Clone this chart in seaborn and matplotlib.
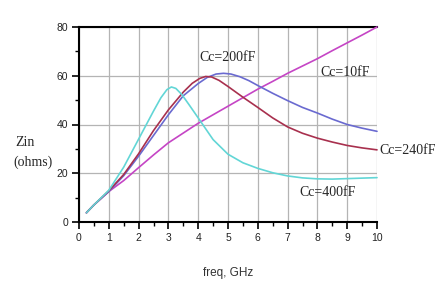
import matplotlib
matplotlib.use("Agg")
import matplotlib.pyplot as plt
import seaborn as sns
from matplotlib.ticker import MultipleLocator

# ---- data ----
freq_10 = [0.25, 0.5, 1.0, 1.5, 2.0, 2.5, 3.0, 3.5, 4.0, 4.5, 5.0, 5.5, 6.0, 6.5, 7.0, 7.5, 8.0, 8.5, 9.0, 9.5, 10.0]
zin_10 = [3.8, 7.0, 12.5, 17.0, 22.3, 27.5, 32.5, 36.5, 40.5, 44.0, 47.5, 51.0, 54.5, 57.7, 61.0, 64.0, 67.0, 70.3, 73.5, 76.7, 80.0]

freq_200 = [0.25, 0.5, 1.0, 1.5, 2.0, 2.5, 3.0, 3.5, 4.0, 4.3, 4.6, 4.85, 5.1, 5.4, 5.7, 6.0, 6.5, 7.0, 7.5, 8.0, 8.5, 9.0, 9.5, 10.0]
zin_200 = [3.8, 7.0, 12.5, 19.0, 27.0, 35.5, 44.0, 51.8, 56.8, 59.3, 60.7, 61.0, 60.7, 59.6, 58.0, 56.0, 52.8, 49.8, 47.0, 44.7, 42.2, 40.0, 38.5, 37.2]

freq_240 = [0.25, 0.5, 1.0, 1.5, 2.0, 2.5, 3.0, 3.5, 3.8, 4.05, 4.25, 4.45, 4.7, 5.0, 5.5, 6.0, 6.5, 7.0, 7.5, 8.0, 8.5, 9.0, 9.5, 10.0]
zin_240 = [3.8, 7.0, 12.8, 19.5, 28.0, 37.5, 46.0, 53.3, 56.9, 58.9, 59.7, 59.5, 58.1, 55.6, 51.2, 47.0, 42.7, 39.0, 36.4, 34.4, 32.8, 31.4, 30.4, 29.6]

freq_400 = [0.25, 0.5, 1.0, 1.5, 2.0, 2.5, 2.75, 2.95, 3.1, 3.25, 3.45, 3.7, 4.0, 4.5, 5.0, 5.5, 6.0, 6.5, 7.0, 7.5, 8.0, 8.5, 9.0, 9.5, 10.0]
zin_400 = [3.8, 7.0, 13.0, 22.5, 34.0, 45.5, 51.0, 54.3, 55.4, 54.8, 52.3, 48.0, 42.7, 33.8, 27.8, 24.3, 22.0, 20.2, 18.9, 18.1, 17.7, 17.6, 17.8, 18.0, 18.2]

series_labels = ["Cc=10fF", "Cc=200fF", "Cc=240fF", "Cc=400fF"]
series_colors = ["#c545c5", "#6a6ad0", "#a8304e", "#62d6d6"]

x_ticks = [0, 1, 2, 3, 4, 5, 6, 7, 8, 9, 10]
y_ticks = [0, 20, 40, 60, 80]

# ---- figure ----
sns.set_style("white")
plt.rcParams["font.family"] = ["Liberation Sans", "DejaVu Sans"]

fig = plt.figure(figsize=(4.46, 2.85), dpi=100)
ax = fig.add_axes([79 / 446, 1 - 222 / 285, (377 - 79) / 446, (222 - 27) / 285])

for fx, fy, col in zip([freq_10, freq_200, freq_240, freq_400],
                       [zin_10, zin_200, zin_240, zin_400], series_colors):
    sns.lineplot(x=fx, y=fy, color=col, linewidth=1.2, ax=ax, clip_on=False, zorder=3)

ax.set_xlim(0, 10)
ax.set_ylim(0, 80)
ax.set_xticks(x_ticks)
ax.set_yticks(y_ticks)
ax.set_xticklabels([str(t) for t in x_ticks], fontsize=7.5, color="#222222")
ax.set_yticklabels([str(t) for t in y_ticks], fontsize=7.5, color="#222222")
ax.xaxis.set_minor_locator(MultipleLocator(0.5))
ax.yaxis.set_minor_locator(MultipleLocator(10))
ax.tick_params(axis="both", which="major", direction="out", length=5, width=1.2, color="black", pad=3)
ax.tick_params(axis="both", which="minor", direction="out", length=3, width=1.0, color="black")
ax.tick_params(bottom=True, left=True, which="both")

ax.grid(True, which="major", color="#b4b4b4", linewidth=0.9)
ax.set_axisbelow(True)

for s in ["left", "bottom", "top"]:
    ax.spines[s].set_visible(True)
    ax.spines[s].set_color("black")
    ax.spines[s].set_linewidth(1.5)
ax.spines["right"].set_visible(False)

ax.set_xlabel("freq, GHz", fontsize=8.5, color="#333333", labelpad=17)
ax.set_ylabel("")

serif = ["Liberation Serif", "DejaVu Serif"]
ax.text(4.05, 67.5, series_labels[1], fontsize=10, family=serif, ha="left", va="center")
ax.text(8.1, 61.5, series_labels[0], fontsize=10, family=serif, ha="left", va="center")
ax.text(10.08, 29.5, series_labels[2], fontsize=10, family=serif, ha="left", va="center", clip_on=False)
ax.text(7.4, 12, series_labels[3], fontsize=10, family=serif, ha="left", va="center")

fig.text(15 / 446, 1 - 142 / 285, "Zin", fontsize=10, family=serif, ha="left", va="center")
fig.text(13 / 446, 1 - 162 / 285, "(ohms)", fontsize=10, family=serif, ha="left", va="center")

fig.savefig("out.png", dpi=100, facecolor="white")
